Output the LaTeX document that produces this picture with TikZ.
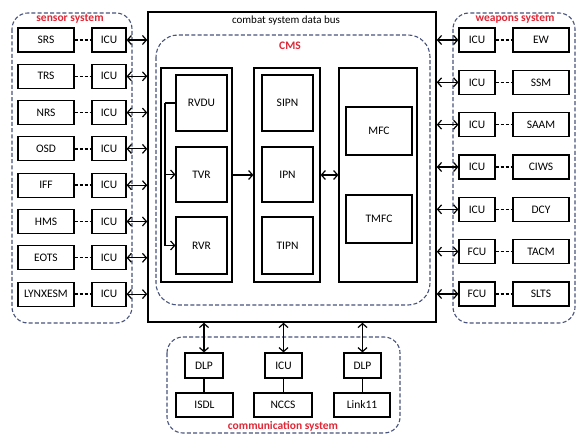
\documentclass[tikz,border=0pt]{standalone}
\usepackage{fontspec}
\setmainfont{Carlito}
\usetikzlibrary{arrows.meta}
\definecolor{lblred}{RGB}{222,40,55}
\definecolor{dashblue}{RGB}{72,84,125}
\tikzset{
  box/.style={draw, line width=1.2pt, inner sep=0pt, minimum height=24pt, font=\fontsize{11.5}{12}\selectfont},
  colbox/.style={draw, line width=1.2pt, inner sep=0pt},
  sysframe/.style={draw=dashblue, line width=1.1pt, dash pattern=on 4pt off 2.2pt, rounded corners=16pt},
  linkdash/.style={line width=1.4pt, dash pattern=on 3pt off 2pt},
  darrow/.style={line width=1.2pt, {Straight Barb[length=4pt,width=9pt]}-{Straight Barb[length=4pt,width=9pt]}},
  sarrow/.style={line width=1.2pt, -{Straight Barb[length=4pt,width=9pt]}},
  syslabel/.style={text=lblred, font=\bfseries\fontsize{11.5}{12}\selectfont},
}
\begin{document}
\begin{tikzpicture}[x=1pt,y=-1pt]
\useasboundingbox (0,0) rectangle (580,435);
\fill[white] (0,0) rectangle (580,435);

% main bus
\node[draw, line width=1.5pt, minimum width=288pt, minimum height=310pt, inner sep=0pt] (bus) at (292,167) {};
\node[font=\fontsize{11}{12}\selectfont] (bustitle) at (286,21) {combat system data bus};

% CMS frame
\draw[sysframe, rounded corners=22pt] (156,35) rectangle (430,305);
\node[syslabel] (cmslabel) at (290,46) {CMS};

% columns
\node[colbox, minimum width=71pt, minimum height=214pt] (col1) at (196.5,175) {};
\node[colbox, minimum width=66pt, minimum height=214pt] (col2) at (287,175) {};
\node[colbox, minimum width=78pt, minimum height=214pt] (col3) at (378,175) {};

\node[box, minimum width=51pt, minimum height=56pt] (rvdu) at (201.5,103) {RVDU};
\node[box, minimum width=51pt, minimum height=55pt] (tvr) at (201.5,174.5) {TVR};
\node[box, minimum width=51pt, minimum height=57pt] (rvr) at (201.5,245.5) {RVR};

\node[box, minimum width=51pt, minimum height=56pt] (sipn) at (287.5,103) {SIPN};
\node[box, minimum width=51pt, minimum height=55pt] (ipn) at (287.5,174.5) {IPN};
\node[box, minimum width=51pt, minimum height=57pt] (tipn) at (287.5,245.5) {TIPN};

\node[box, minimum width=66pt, minimum height=48pt] (mfc) at (379,131) {MFC};
\node[box, minimum width=66pt, minimum height=48pt] (tmfc) at (379,219) {TMFC};

\coordinate (jn) at (165,103);
\draw[line width=1.2pt] (rvdu.west) -- (jn);
\draw[sarrow] (jn) |- (rvr.west);
\draw[sarrow] (jn |- tvr.west) -- (tvr.west);
\draw[sarrow] (col1.east) -- (col2.west);
\draw[darrow] (col2.east) -- (col3.west);

% sensor system
\draw[sysframe] (12,13) rectangle (132,323);
\node[syslabel] (senslabel) at (70,19) {sensor system};
\foreach \n [count=\i from 0] in {SRS,TRS,NRS,OSD,IFF,HMS,EOTS,LYNXESM}{
  \node[box, minimum width=56pt] (s\i) at (46,40+36.3*\i) {\n};
  \node[box, minimum width=34pt] (si\i) at (109,40+36.3*\i) {ICU};
  \draw[linkdash] (s\i.east) -- (si\i.west);
  \draw[darrow] (si\i.east) -- (si\i.east -| bus.west);
}

% weapons system
\draw[sysframe] (453,13) rectangle (575,323);
\node[syslabel] (weaplabel) at (515,19) {weapons system};
\foreach \u/\n [count=\i from 0] in {ICU/EW,ICU/SSM,ICU/SAAM,ICU/CIWS,ICU/DCY,FCU/TACM,FCU/SLTS}{
  \node[box, minimum width=36pt] (wi\i) at (477,40+42.33*\i) {\u};
  \node[box, minimum width=56pt] (w\i) at (541,40+42.33*\i) {\n};
  \draw[linkdash] (wi\i.east) -- (w\i.west);
  \draw[darrow] (wi\i.west) -- (wi\i.west -| bus.east);
}

% communication system
\draw[sysframe] (167,337) rectangle (400,433);
\node[syslabel] (commlabel) at (283,426) {communication system};
\node[box, minimum width=38pt, minimum height=25pt] (c1) at (204,365.5) {DLP};
\node[box, minimum width=37pt, minimum height=25pt] (c2) at (283.5,365.5) {ICU};
\node[box, minimum width=37pt, minimum height=25pt] (c3) at (362.5,365.5) {DLP};
\node[box, minimum width=57pt] (d1) at (204.5,405) {ISDL};
\node[box, minimum width=58pt] (d2) at (283,405) {NCCS};
\node[box, minimum width=56pt] (d3) at (362,405) {Link11};
\foreach \i in {1,2,3}{
  \draw[line width=1.2pt] (c\i.south) -- (c\i.south |- d\i.north);
  \draw[darrow] (c\i.north) -- (c\i.north |- bus.south);
}
\end{tikzpicture}
\end{document}
